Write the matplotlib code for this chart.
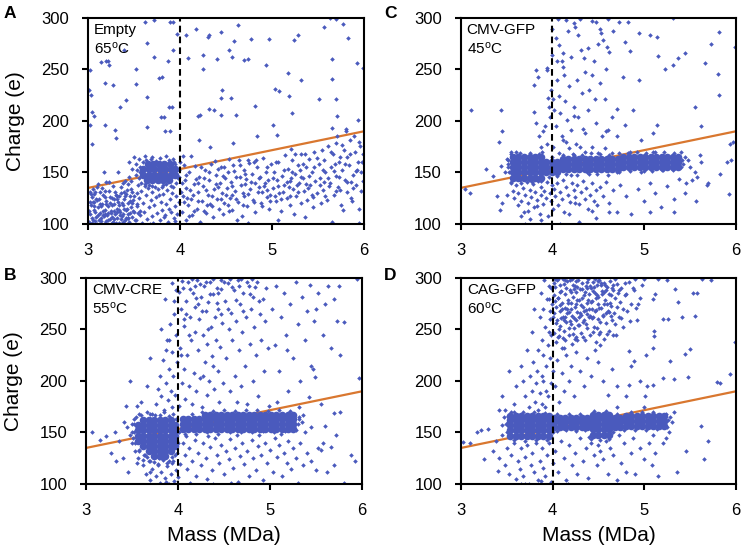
import numpy as np
import matplotlib
matplotlib.use("Agg")
import matplotlib.pyplot as plt

plt.rcParams['font.family'] = ['Liberation Sans', 'DejaVu Sans']
plt.rcParams['mathtext.default'] = 'regular'

# ---------------- data ----------------
mass_ticks = [3, 4, 5, 6]
charge_ticks = [100, 150, 200, 250, 300]
fit_mass = [3, 6]
fit_charge = [135, 190]
cutoff_mass = 4
panel_letters = ['A', 'C', 'B', 'D']
samples = ['Empty', 'CMV-GFP', 'CMV-CRE', 'CAG-GFP']
temps = ['65', '45', '55', '60']

# dense cores: (charge, [masses]) read from the most crowded regions
A_core = [(143, [3.64, 3.70, 3.76, 3.82, 3.88]),
          (148, [3.60, 3.66, 3.72, 3.78, 3.84, 3.90, 3.95]),
          (153, [3.60, 3.66, 3.72, 3.78, 3.84, 3.90, 3.95]),
          (158, [3.65, 3.71, 3.77, 3.83, 3.89])]

C_core = [(145, [3.57, 3.63, 3.69, 3.75, 3.81, 3.87]),
          (150, [3.57, 3.63, 3.69, 3.75, 3.81, 3.87, 3.93, 3.99, 4.05]),
          (155, [3.57, 3.63, 3.69, 3.75, 3.81, 3.87, 3.93, 3.99, 4.05]),
          (160, [3.57, 3.63, 3.69, 3.75, 3.81, 3.87, 3.93, 3.99, 4.05]),
          (165, [3.57, 3.63, 3.69, 3.75, 3.81, 3.87]),
          (153, [4.11, 4.17, 4.23, 4.29, 4.35, 4.41, 4.47, 4.53, 4.59, 4.65, 4.71]),
          (158, [4.11, 4.17, 4.23, 4.29, 4.35, 4.41, 4.47, 4.53, 4.59, 4.65, 4.71]),
          (163, [4.11, 4.17, 4.23, 4.29, 4.35, 4.41, 4.47, 4.53, 4.59, 4.65, 4.71]),
          (155, [4.77, 4.83, 4.89, 4.95, 5.01, 5.07, 5.13, 5.19, 5.25, 5.31, 5.37]),
          (160, [4.77, 4.83, 4.89, 4.95, 5.01, 5.07, 5.13, 5.19, 5.25, 5.31, 5.37]),
          (165, [4.77, 4.83, 4.89, 4.95, 5.01, 5.07, 5.13, 5.19, 5.25, 5.31, 5.37])]

B_core = [(162, [3.62, 3.68, 3.74, 3.80, 3.86, 3.92]),
          (157, [3.56, 3.62, 3.68, 3.74, 3.80, 3.86, 3.92, 3.97]),
          (152, [3.56, 3.62, 3.68, 3.74, 3.80, 3.86, 3.92, 3.97]),
          (147, [3.56, 3.62, 3.68, 3.74, 3.80, 3.86, 3.92, 3.97]),
          (142, [3.56, 3.62, 3.68, 3.74, 3.80, 3.86, 3.92, 3.97]),
          (137, [3.62, 3.68, 3.74, 3.80, 3.86, 3.92, 3.97]),
          (132, [3.68, 3.74, 3.80, 3.86, 3.92]),
          (127, [3.74, 3.80, 3.86]),
          (153, [4.05, 4.11, 4.17, 4.23, 4.29, 4.35, 4.41, 4.47, 4.53, 4.59, 4.65,
                 4.71, 4.77, 4.83, 4.89, 4.95, 5.01, 5.07, 5.13, 5.19, 5.25]),
          (158, [4.05, 4.11, 4.17, 4.23, 4.29, 4.35, 4.41, 4.47, 4.53, 4.59, 4.65,
                 4.71, 4.77, 4.83, 4.89, 4.95, 5.01, 5.07, 5.13, 5.19, 5.25]),
          (163, [4.05, 4.11, 4.17, 4.23, 4.29, 4.35, 4.41, 4.47, 4.53, 4.59, 4.65,
                 4.71, 4.77, 4.83, 4.89, 4.95, 5.01, 5.07, 5.13, 5.19, 5.25]),
          (167, [4.29, 4.35, 4.41, 4.47, 4.53, 4.59, 4.65,
                 4.71, 4.77, 4.83, 4.89, 4.95, 5.01, 5.07, 5.13, 5.19, 5.25])]

D_core = [(147, [3.54, 3.60, 3.66, 3.72, 3.78, 3.84, 3.90, 3.96]),
          (152, [3.54, 3.60, 3.66, 3.72, 3.78, 3.84, 3.90, 3.96]),
          (157, [3.54, 3.60, 3.66, 3.72, 3.78, 3.84, 3.90, 3.96]),
          (162, [3.54, 3.60, 3.66, 3.72, 3.78, 3.84, 3.90, 3.96]),
          (166, [3.54, 3.60, 3.66, 3.72, 3.78, 3.84, 3.90, 3.96]),
          (155, [4.02, 4.08, 4.14, 4.20, 4.26, 4.32, 4.38, 4.68, 4.74]),
          (160, [4.02, 4.08, 4.14, 4.20, 4.26, 4.32, 4.38, 4.68, 4.74]),
          (164, [4.02, 4.08, 4.14, 4.20, 4.26, 4.32, 4.38, 4.68, 4.74]),
          (148, [4.44, 4.50, 4.56, 4.62]),
          (153, [4.44, 4.50, 4.56, 4.62]),
          (158, [4.44, 4.50, 4.56, 4.62]),
          (163, [4.44, 4.50, 4.56, 4.62]),
          (167, [4.44, 4.50, 4.56, 4.62]),
          (156, [4.80, 4.86, 4.92, 4.98, 5.04, 5.10, 5.16, 5.22]),
          (161, [4.80, 4.86, 4.92, 4.98, 5.04, 5.10, 5.16, 5.22]),
          (166, [4.80, 4.86, 4.92, 4.98, 5.04, 5.10, 5.16, 5.22])]

# individual events (mass MDa, charge e)
A_points = [
    (3.62,296),(3.72,298),(3.89,296),(3.92,296),(3.64,276),(3.39,269),(3.14,257),(3.20,258),(3.22,258),
    (3.23,254),(3.02,249),(3.52,250),(3.72,262),(3.87,258),(3.92,269),(3.97,284),(3.19,237),(3.27,235),
    (3.52,236),(3.77,242),(3.80,243),(3.41,220),(3.35,214),(3.64,223),(3.88,214),(3.91,214),(3.79,204),
    (3.83,204),(3.64,194),(3.84,190),(3.89,190),(3.04,209),(3.02,196),(3.18,196),(3.29,191),(3.30,183),
    (3.04,178),(4.07,283),(4.17,289),(4.31,283),(4.30,282),(4.44,286),(4.63,293),(4.59,278),(4.53,269),
    (4.56,262),(4.70,259),(4.74,260),(4.77,280),(4.97,280),(5.24,279),(5.28,283),(5.57,291),(5.63,300),
    (5.69,299),(5.77,294),(5.83,281),(5.92,256),(5.99,251),(5.65,260),(5.65,241),(5.69,221),(5.71,205),
    (5.65,193),(5.93,201),(5.80,192),(4.09,261),(4.25,250),(4.40,260),(4.25,264),(4.46,230),(4.45,222),
    (4.55,222),(4.32,212),(4.37,211),(4.61,206),(4.44,206),(4.19,205),(4.22,206),(4.81,215),(4.84,185),
    (4.58,179),(4.33,175),(4.21,182),(5.05,186),(5.01,196),(5.03,231),(5.08,229),(4.93,254),(5.18,224),
    (5.22,208),(5.32,240),(5.17,247),(5.51,221),(5.21,173),(5.36,168),(4.74,162),(4.48,155),(4.12,166),
    (4.03,166),(3.01,230),(3.03,225),(3.06,205),
    (3.01,102),(3.02,110),(3.03,118),(3.04,126),(3.05,104),(3.06,114),(3.07,121),(3.08,131),(3.09,107),
    (3.10,100),(3.11,116),(3.12,124),(3.13,111),(3.14,103),(3.15,119),(3.16,128),(3.17,108),(3.18,114),
    (3.19,101),(3.20,122),(3.21,109),(3.22,117),(3.23,132),(3.24,105),(3.25,113),(3.26,125),(3.27,102),
    (3.28,119),(3.29,110),(3.30,128),(3.31,106),(3.32,115),(3.33,121),(3.34,101),(3.35,112),(3.36,130),
    (3.37,108),(3.38,118),(3.39,124),(3.40,104),(3.41,114),(3.42,133),(3.43,110),(3.44,120),(3.45,102),
    (3.46,127),(3.47,116),(3.48,107),(3.49,123),(3.50,112),(3.02,121),(3.04,106),(3.06,129),(3.08,112),
    (3.10,123),(3.12,104),(3.14,117),(3.16,109),(3.18,126),(3.20,103),(3.22,111),(3.24,120),(3.26,107),
    (3.28,113),(3.30,101),(3.32,124),(3.34,118),(3.36,105),(3.38,110),(3.40,127),(3.42,115),(3.44,106),
    (3.46,111),(3.48,131),(3.15,135),(3.05,134),(3.27,137),(3.38,140),(3.45,146),(3.33,150),(3.48,153),
    (3.40,142),(3.20,141),(3.52,158),(3.17,150),
    (3.015,113),(3.035,129),(3.045,101),(3.065,117),(3.085,124),(3.095,136),(3.105,109),(3.125,131),
    (3.135,119),(3.145,106),(3.165,113),(3.185,132),(3.195,119),(3.215,104),(3.235,126),(3.245,111),
    (3.265,118),(3.285,105),(3.295,131),(3.315,112),(3.335,127),(3.345,109),(3.365,120),(3.385,102),
    (3.395,115),(3.415,129),(3.435,106),(3.455,122),(3.465,134),(3.485,113),(3.505,127),(3.515,104),
    (3.535,119),(3.545,111),(3.11,139),(3.23,141),(3.36,136),(3.43,139),(3.05,121),(3.19,110),(3.31,127),
    (3.26,101),(3.39,131),(3.48,120),(3.13,100),(3.02,131),(3.28,124),(3.08,103),(3.41,106),(3.34,114),
    (3.52,104),(3.53,117),(3.55,125),(3.56,109),(3.58,132),(3.59,101),(3.60,120),(3.61,112),(3.63,128),
    (3.64,105),(3.65,135),(3.66,116),(3.68,123),(3.69,108),(3.70,131),(3.71,101),(3.72,118),(3.74,126),
    (3.75,111),(3.76,134),(3.78,104),(3.79,121),(3.80,114),(3.82,129),(3.83,107),(3.85,119),(3.86,133),
    (3.87,102),(3.89,124),(3.90,112),(3.91,130),(3.93,106),(3.94,117),(3.96,127),(3.97,110),(3.99,121),
    (3.54,138),(3.62,137),(3.73,136),(3.81,138),(3.92,136),(3.57,113),(3.67,100),(3.77,128),(3.88,115),
    (3.95,103),(3.53,130),(3.84,109),(3.50,165),(3.55,163),(3.62,166),(3.70,165),(3.85,166),(3.92,163),
    (4.00,160),(3.47,142),(3.52,148),(3.98,145),(4.02,140),(3.45,160),
    (4.02,112),(4.03,127),(4.05,143),(4.06,104),(4.07,135),(4.09,118),(4.10,150),(4.12,124),(4.13,109),
    (4.15,139),(4.16,156),(4.18,115),(4.19,131),(4.21,146),(4.22,102),(4.24,122),(4.25,137),(4.27,152),
    (4.28,111),(4.30,128),(4.31,143),(4.33,119),(4.34,158),(4.36,107),(4.37,134),(4.39,148),(4.40,124),
    (4.42,115),(4.43,140),(4.45,155),(4.46,130),(4.48,120),(4.49,145),(4.04,157),(4.11,133),(4.20,140),
    (4.29,118),(4.38,161),(4.47,110),
    (4.51,135),(4.52,150),(4.54,125),(4.55,141),(4.57,114),(4.58,157),(4.60,132),(4.61,146),(4.63,121),
    (4.64,162),(4.66,138),(4.67,108),(4.69,152),(4.70,127),(4.72,144),(4.73,117),(4.75,159),(4.76,134),
    (4.78,149),(4.79,123),(4.81,140),(4.82,112),(4.84,155),(4.85,131),(4.87,146),(4.88,120),(4.90,164),
    (4.91,137),(4.93,150),(4.94,126),(4.96,143),(4.97,115),(4.99,158),(4.53,163),(4.62,104),(4.74,101),
    (4.86,136),(4.95,133),(4.68,130),(4.80,160),
    (5.01,135),(5.02,150),(5.04,122),(5.05,143),(5.07,160),(5.08,130),(5.10,113),(5.11,147),(5.13,138),
    (5.14,167),(5.16,125),(5.17,153),(5.19,142),(5.20,118),(5.22,162),(5.23,134),(5.25,149),(5.26,127),
    (5.28,157),(5.29,140),(5.31,120),(5.32,168),(5.34,145),(5.35,132),(5.37,155),(5.38,123),(5.40,163),
    (5.41,138),(5.43,150),(5.44,116),(5.46,170),(5.47,142),(5.49,130),(5.06,104),(5.12,131),(5.24,110),
    (5.36,107),(5.45,126),(5.18,136),(5.30,152),
    (5.51,158),(5.52,145),(5.54,172),(5.55,133),(5.57,162),(5.58,150),(5.60,123),(5.61,176),(5.63,140),
    (5.64,155),(5.66,168),(5.67,128),(5.69,147),(5.70,179),(5.72,136),(5.73,160),(5.75,118),(5.76,152),
    (5.78,172),(5.79,143),(5.81,165),(5.82,131),(5.84,157),(5.85,182),(5.87,122),(5.88,148),(5.90,170),
    (5.91,138),(5.93,160),(5.94,115),(5.96,176),(5.97,150),(5.99,142),(5.53,120),(5.65,102),(5.77,114),
    (5.86,125),(5.95,101),(5.62,137),(5.74,165),(5.89,185),(5.98,160),(5.80,190),(5.71,185),
    (4.08,125),(4.26,145),(4.41,136),(4.57,128),(4.71,139),(4.89,131),(5.03,127),(5.21,145),(5.39,135),
    (5.56,141),(5.74,133),(5.92,152),(4.15,113),(4.35,127),(4.65,146),(4.98,122),(5.27,138),(5.68,158),
    (5.86,141),(4.52,118),
    (4.01,131),(4.04,121),(4.07,148),(4.10,108),(4.14,128),(4.17,144),(4.19,122),(4.23,155),(4.26,113),
    (4.28,133),(4.32,150),(4.35,117),(4.39,139),(4.41,153),(4.44,124),(4.47,147),(4.50,128),(4.53,113),
    (4.56,137),(4.59,151),(4.61,124),(4.65,157),(4.68,118),(4.71,149),(4.74,129),(4.77,141),(4.80,121),
    (4.83,162),(4.86,145),(4.89,117),(4.92,140),(4.95,155),(4.98,128),(5.01,145),(5.04,160),(5.07,137),
    (5.10,124),(5.13,152),(5.16,141),(5.19,127),(5.22,150),(5.25,168),(5.28,131),(5.31,146),(5.34,158),
    (5.37,139),(5.40,147),(5.43,128),(5.46,155),(5.49,164),(5.52,138),(5.55,152),(5.58,127),(5.61,145),
    (5.64,170),(5.67,151),(5.70,132),(5.73,146),(5.76,177),(5.79,158),(5.82,141),(5.85,168),(5.88,135),
    (5.91,151),(5.94,180),(5.97,132),(5.99,168)]

A_fringe = [(3.55,145),(3.56,155),(3.58,140),(3.60,160),(3.68,163),(3.78,164),(3.88,162),(3.95,158),
            (3.99,152),(3.99,146),(3.96,140),(3.90,137),(3.80,136),(3.70,137),(3.62,139),(3.57,150),
            (3.53,152),(3.66,138),(3.85,139),(3.93,160),(3.74,161),(3.63,162)]

C_points = [
    (3.82,249),(3.80,235),(3.84,243),(3.94,251),(3.94,249),(3.99,264),(4.00,289),(4.04,281),(4.07,274),
    (4.11,266),(4.10,258),(4.13,245),(4.17,287),(4.23,295),(4.25,291),(4.28,283),(4.31,269),(4.34,261),
    (4.39,271),(4.43,297),(4.52,289),(4.53,285),(4.55,279),(4.59,272),(4.62,267),(4.66,287),(4.72,296),
    (4.82,296),(4.79,277),(4.84,268),(4.94,285),(5.06,283),(5.14,282),(5.15,263),(5.31,254),(5.44,266),
    (5.66,256),(5.73,275),(5.82,225),(5.82,286),(5.99,272),(5.80,246),(5.31,300),
    (3.80,209),(3.82,198),(3.85,185),(3.87,175),(3.90,190),(3.92,195),(3.96,214),(3.97,204),(4.01,221),
    (4.02,211),(4.04,195),(4.07,224),(4.08,208),(4.10,185),(4.14,219),(4.16,201),(4.18,234),(4.20,191),
    (4.23,214),(4.26,178),(4.28,204),(4.32,227),(4.36,188),(4.39,211),(4.43,245),(4.46,221),(4.48,198),
    (4.52,237),(4.54,185),(4.57,221),(4.61,191),(4.65,204),(4.70,212),(4.77,243),(4.79,196),(4.88,211),
    (4.94,240),(4.97,182),(5.10,188),(5.23,250),(5.37,261),(5.55,214),(5.62,195),(5.61,167),(5.95,162),
    (5.94,178),(5.14,196),(3.11,211),(3.44,211),(3.45,190),(3.42,180),
    (3.89,170),(3.94,178),(4.01,175),(4.07,169),(4.12,182),(4.18,174),(4.23,167),(4.30,175),(4.36,170),
    (4.43,175),(4.50,169),(4.57,174),(4.65,169),(3.98,230),(4.05,240),(4.12,252),(4.20,262),(4.27,240),
    (4.35,248),(4.45,258),(4.50,275),(4.58,250),(4.06,299),(4.15,298),(4.30,299),(4.47,296),(4.60,299),
    (4.40,230),(4.24,205),(4.05,258),(3.95,222),(4.15,180),(4.33,192),(4.58,190),(4.70,185),
    (3.55,140),(3.57,132),(3.58,125),(3.60,138),(3.62,118),(3.63,130),(3.65,143),(3.66,122),(3.68,135),
    (3.69,112),(3.70,128),(3.72,141),(3.73,120),(3.75,133),(3.76,105),(3.77,126),(3.79,139),(3.80,116),
    (3.81,131),(3.83,123),(3.84,142),(3.86,110),(3.87,128),(3.88,136),(3.90,119),(3.91,132),(3.93,125),
    (3.94,141),(3.95,108),(3.97,130),(3.98,122),(3.99,138),(4.01,115),(4.02,134),(4.03,127),(4.05,140),
    (4.06,118),(4.08,131),(4.10,124),(4.11,143),(4.13,112),(4.15,136),(4.17,128),(4.19,121),(4.21,140),
    (4.23,133),(4.25,126),(4.27,138),(4.29,119),(4.31,131),(4.33,142),(4.35,124),(4.37,135),(4.39,115),
    (4.41,128),(4.43,140),(4.45,122),(4.47,133),(4.49,118),(4.52,136),(4.55,127),(4.58,141),(4.62,120),
    (4.66,133),(4.70,112),(4.74,138),(4.80,127),(4.86,110),(4.93,134),(5.00,122),(5.06,140),(5.12,130),
    (5.18,116),(5.25,137),(5.32,112),(5.38,144),(5.45,130),(5.52,143),(5.56,122),(5.68,138),(5.83,149),
    (5.92,129),(5.46,140),(3.50,128),(3.45,120),(3.43,114),(3.40,127),(3.35,147),(3.28,153),(3.10,130),
    (3.05,134),(3.48,150),(3.44,156),(3.52,162),(3.55,168),(3.60,170),(3.70,100),(3.88,104),(4.29,102),
    (4.08,100),(4.62,112),(3.66,108),(3.73,113),(3.83,117),(4.18,110),(4.48,106),(5.33,124),(5.06,112),
    (4.25,120),(4.43,113),(5.50,155),(5.55,150),(5.62,160),(5.58,146),(5.48,162),(5.70,140),(5.97,180),
    (5.90,160)]

C_fringe = [(4.12,167),(4.22,168),(4.32,167),(4.42,169),(4.52,168),(4.62,167),(4.72,169),(4.82,169),
            (4.92,170),(5.02,169),(5.12,170),(5.22,170),(5.32,169),(4.15,149),(4.27,148),(4.38,150),
            (4.49,149),(4.61,148),(4.73,150),(4.84,151),(4.96,150),(5.08,151),(5.19,152),(5.31,152),
            (5.40,155),(5.41,162),(3.55,170),(3.65,169),(3.75,169),(3.85,168),(3.55,141),(3.66,140),
            (3.78,141),(3.88,142),(3.96,146),(4.00,165),(3.52,155),(3.51,163),(3.60,147),(3.70,145),
            (3.85,146),(4.05,147),(4.20,148),(4.40,149),(4.70,150),(5.00,151),(5.20,152),(5.42,158),
            (5.44,165),(5.40,170),(5.10,170),(4.85,170),(3.53,150),(3.52,158)]

B_points = [
    (3.76,178),(3.78,192),(3.80,205),(3.82,185),(3.84,220),(3.85,172),(3.87,198),(3.88,240),(3.89,182),
    (3.90,212),(3.91,255),(3.92,190),(3.93,228),(3.94,175),(3.95,205),(3.96,265),(3.97,186),(3.98,245),
    (3.99,218),(3.70,222),(3.66,195),(3.60,180),(3.72,168),(3.55,176),(3.48,200),(3.82,250),(3.86,280),
    (3.93,295),(3.98,288),
    (4.01,176),(4.02,232),(4.03,270),(4.04,198),(4.05,290),(4.06,212),(4.07,253),(4.08,183),(4.09,278),
    (4.10,225),(4.11,296),(4.12,195),(4.13,262),(4.14,240),(4.15,178),(4.16,285),(4.17,208),(4.18,248),
    (4.19,272),(4.20,190),(4.21,298),(4.22,230),(4.23,260),(4.24,203),(4.25,282),(4.26,175),(4.27,245),
    (4.28,292),(4.29,218),(4.30,268),(4.31,186),(4.32,236),(4.33,277),(4.34,200),(4.35,296),(4.36,252),
    (4.37,224),(4.38,284),(4.39,192),(4.40,262),(4.41,240),(4.42,290),(4.43,210),(4.44,270),(4.45,180),
    (4.46,233),(4.47,298),(4.48,256),(4.49,198),(4.03,225),(4.12,245),(4.22,275),(4.33,250),(4.44,285),
    (4.06,260),(4.18,292),(4.27,205),(4.38,215),(4.47,265),
    (4.51,278),(4.52,222),(4.54,295),(4.55,250),(4.56,190),(4.58,266),(4.59,240),(4.61,288),(4.62,205),
    (4.63,258),(4.65,298),(4.66,230),(4.67,275),(4.69,195),(4.70,248),(4.71,285),(4.73,215),(4.74,262),
    (4.75,178),(4.77,292),(4.78,236),(4.79,270),(4.81,200),(4.82,282),(4.83,252),(4.85,225),(4.86,296),
    (4.87,185),(4.89,265),(4.90,240),(4.92,280),(4.93,210),(4.95,258),(4.96,290),(4.98,232),(4.99,176),
    (4.57,299),(4.68,299),(4.80,299),(4.64,180),
    (5.02,270),(5.05,235),(5.07,292),(5.10,210),(5.12,262),(5.15,285),(5.17,245),(5.20,190),(5.22,275),
    (5.25,222),(5.28,296),(5.30,255),(5.33,200),(5.35,282),(5.38,240),(5.40,268),(5.43,293),(5.45,215),
    (5.48,258),(5.52,285),(5.55,178),(5.58,245),(5.60,275),(5.63,292),(5.66,232),(5.70,280),(5.73,258),
    (5.76,225),(5.08,180),(5.18,230),(5.32,175),(5.42,184),(5.50,270),(5.95,299),(5.97,203),(5.75,292),
    (5.80,257),(5.47,212),(5.49,204),(5.69,169),(5.76,170),
    (4.015,286),(4.045,297),(4.085,265),(4.125,289),(4.155,299),(4.195,281),(4.235,294),(4.265,268),
    (4.305,296),(4.345,284),(4.385,299),(4.425,276),(4.465,289),(4.505,296),(4.545,270),(4.585,291),
    (4.625,279),(4.665,292),(4.705,268),(4.745,296),(4.785,284),(4.835,291),(4.885,278),(3.955,278),
    (3.905,240),(3.865,230),
    (3.62,118),(3.65,110),(3.68,122),(3.70,104),(3.72,115),(3.74,121),(3.76,108),(3.78,118),(3.80,101),
    (3.82,112),(3.84,123),(3.86,106),(3.88,117),(3.90,100),(3.92,110),(3.94,120),(3.96,103),(3.98,114),
    (4.00,107),(4.02,119),(3.57,125),(3.53,132),(3.50,140),(3.48,148),(3.45,155),(3.52,163),(3.58,168),
    (3.66,170),(3.75,167),(3.85,170),(3.95,168),(3.70,112),(3.79,125),(3.87,102),(3.93,126),(3.63,128),
    (3.55,120),(3.46,112),(3.40,125),(3.58,132),(3.66,126),(3.90,122),(3.97,128),(3.52,150),(3.50,158),
    (3.07,150),(3.15,143),(3.22,147),(3.27,130),(3.33,122),(3.36,142),(3.43,176),(3.41,160),(3.31,150),
    (4.05,140),(4.08,128),(4.10,115),(4.12,135),(4.15,122),(4.18,143),(4.20,108),(4.22,130),(4.25,118),
    (4.27,140),(4.30,125),(4.32,105),(4.35,136),(4.37,114),(4.40,145),(4.42,128),(4.45,120),(4.47,138),
    (4.50,110),(4.52,132),(4.55,124),(4.57,144),(4.60,116),(4.62,135),(4.65,102),(4.67,127),(4.70,140),
    (4.72,119),(4.75,132),(4.77,108),(4.80,143),(4.82,125),(4.85,114),(4.87,137),(4.90,128),(4.92,104),
    (4.95,140),(4.97,120),(5.00,133),(5.03,112),(5.05,145),(5.08,126),(5.10,138),(5.13,108),(5.15,130),
    (5.18,120),(5.20,142),(5.23,115),(5.25,135),(5.28,125),(5.30,101),(5.33,140),(5.36,118),(5.40,130),
    (5.45,122),(5.50,114),(5.55,133),(5.62,112),(5.70,118),(5.80,101),(5.88,128),(5.92,122),(5.58,140),
    (4.13,101),(4.38,100),(4.58,101),(4.09,147),(4.33,147),(4.64,148),(4.88,148),(5.12,149),(5.35,160),
    (5.38,150),(5.45,155),(5.60,156),(5.72,148),(5.66,136),(5.52,135),(5.32,163),(5.36,167)]

B_fringe = [(3.50,150),(3.52,158),(3.54,165),(3.60,167),(3.70,168),(3.80,167),(3.90,166),(3.98,163),
            (4.01,150),(4.00,140),(3.99,130),(3.95,122),(3.88,120),(3.78,119),(3.70,122),(3.64,128),
            (3.58,133),(3.53,140),(3.51,145),(3.62,123),(3.84,124),(4.08,149),(4.20,149),(4.32,150),
            (4.44,149),(4.56,150),(4.68,150),(4.80,150),(4.92,151),(5.04,150),(5.16,151),(5.28,152),
            (5.30,158),(5.31,165),(4.15,168),(4.26,170),(4.38,171),(4.50,172),(4.62,171),(4.74,172),
            (4.86,172),(4.98,171),(5.10,172),(5.22,171)]

D_points = [
    (3.86,262),(3.87,285),(3.88,240),(3.89,225),(3.90,270),(3.91,298),(3.92,252),(3.93,215),(3.94,280),
    (3.95,235),(3.96,292),(3.97,260),(3.98,245),(3.99,275),(3.88,205),(3.93,190),(3.97,222),(3.84,230),
    (3.80,270),(3.83,210),(3.78,248),
    (4.01,283),(4.02,247),(4.02,266),(4.03,291),(4.04,238),(4.04,272),(4.05,259),(4.06,299),(4.06,281),
    (4.07,244),(4.08,268),(4.08,253),(4.09,287),(4.10,232),(4.10,276),(4.11,262),(4.12,294),(4.12,249),
    (4.13,271),(4.14,284),(4.14,240),(4.15,257),(4.16,297),(4.16,266),(4.17,279),(4.18,245),(4.19,288),
    (4.19,258),(4.20,270),(4.21,299),(4.21,236),(4.22,282),(4.23,261),(4.23,251),(4.24,292),(4.25,275),
    (4.26,243),(4.26,286),(4.27,267),(4.28,298),(4.29,254),(4.29,279),(4.30,289),(4.31,264),(4.31,247),
    (4.32,295),(4.33,272),(4.34,283),(4.34,259),(4.35,240),(4.36,292),(4.37,276),(4.37,265),(4.38,251),
    (4.39,299),(4.40,284),(4.40,270),(4.41,245),(4.42,290),(4.43,261),(4.43,278),(4.44,296),(4.45,252),
    (4.46,285),(4.46,268),(4.47,238),(4.48,293),(4.49,275),(4.50,260),(4.50,282),(4.51,298),(4.52,248),
    (4.53,271),(4.54,287),(4.55,263),(4.56,295),(4.56,241),(4.57,279),(4.58,256),(4.59,291),(4.60,268),
    (4.61,284),(4.62,249),(4.63,297),(4.64,273),(4.65,259),(4.66,288),(4.67,266),(4.68,281),(4.69,245),
    (4.70,294),(4.72,262),(4.73,277),(4.75,290),(4.77,252),(4.79,283),(4.81,268),(4.83,296),(4.86,275),
    (4.89,288),(4.92,259),(4.95,281),(4.98,293),
    (4.015,295),(4.035,256),(4.055,281),(4.075,293),(4.095,261),(4.115,242),(4.135,298),(4.155,270),
    (4.175,251),(4.195,276),(4.215,263),(4.235,289),(4.255,297),(4.275,254),(4.295,266),(4.315,281),
    (4.335,243),(4.355,286),(4.375,296),(4.395,262),(4.415,277),(4.435,248),(4.455,291),(4.475,269),
    (4.495,297),(4.515,257),(4.535,284),(4.555,275),(4.575,293),(4.595,246),(4.615,267),(4.635,283),
    (4.655,293),(4.675,255),(4.705,272),(4.745,261),(4.785,295),(4.845,258),(4.905,271),
    (4.03,299),(4.11,299),(4.18,267),(4.24,241),(4.33,257),(4.41,263),(4.47,281),(4.53,293),(4.59,275),
    (4.66,245),(4.71,285),(4.08,274),(4.14,262),(4.22,293),(4.27,279),(4.36,269),(4.44,287),(4.51,271),
    (4.58,288),(4.64,263),(4.20,255),(4.38,290),(4.06,243),(4.26,259),(4.48,251),
    (3.985,290),(3.975,268),(3.965,248),(3.955,280),(4.005,262),(4.025,278),(4.045,298),(4.065,250),
    (4.085,286),(4.105,270),(4.125,259),(4.145,290),(4.165,276),(4.185,298),(4.205,286),(4.225,246),
    (4.245,272),(4.265,291),(4.285,262),(4.305,274),(4.325,289),(4.345,268),(4.365,255),(4.385,279),
    (4.405,292),(4.425,270),(4.445,262),(4.465,299),(4.485,283),(4.505,246),(4.525,295),(4.545,264),
    (4.565,286),(4.585,266),(4.625,276),(4.645,290),(4.685,299),(4.725,288),(4.765,270),(4.805,284),
    (4.875,290),(4.935,275),
    (3.65,215),(3.68,200),(3.70,185),(3.72,230),(3.74,175),(3.75,205),(3.77,190),(3.79,218),(3.81,180),
    (3.82,198),(3.84,172),(3.86,188),(3.88,178),(3.90,200),(3.92,175),(3.95,185),(3.98,198),(4.00,210),
    (4.03,195),(4.05,220),(4.07,180),(4.10,208),(4.12,190),(4.15,225),(4.18,200),(4.20,215),(4.23,185),
    (4.26,228),(4.30,210),(4.34,195),(4.38,222),(4.42,205),(4.46,230),(4.50,218),(4.55,200),(4.60,186),
    (4.65,212),(4.70,195),(4.52,235),(4.27,240),(4.12,232),(3.60,195),(3.58,178),(3.55,170),(3.48,172),
    (3.52,210),(3.45,185),
    (5.93,207),(5.83,198),(5.99,238),(5.73,298),(5.53,285),(5.58,285),(5.55,263),(5.34,289),(5.37,277),
    (5.41,262),(5.20,260),(5.26,260),(5.28,219),(5.20,203),(5.32,202),(5.44,226),(5.50,231),(5.48,204),
    (5.79,199),(5.01,185),(5.10,196),(5.02,225),(5.10,232),(4.83,196),(4.83,229),(4.89,219),(5.11,249),
    (5.11,244),(5.12,284),(5.00,299),(4.90,299),(5.10,280),(4.85,215),(4.95,200),(5.00,175),(4.80,185),
    (4.70,175),(5.03,195),(5.15,299),(5.25,298),(5.63,299),
    (3.02,141),(3.18,150),(3.22,152),(3.25,124),(3.35,132),(3.38,142),(3.40,113),(3.42,125),(3.45,148),
    (3.48,118),(3.50,135),(3.52,110),(3.55,128),(3.58,140),(3.60,105),(3.62,122),(3.64,115),(3.66,135),
    (3.68,108),(3.70,126),(3.72,138),(3.74,100),(3.76,118),(3.78,130),(3.80,112),(3.82,140),(3.84,104),
    (3.86,122),(3.88,135),(3.90,116),(3.92,108),(3.94,128),(3.96,140),(3.98,102),(4.00,120),(4.03,132),
    (4.06,112),(4.09,142),(4.12,125),(4.15,104),(4.18,138),(4.21,118),(4.24,130),(4.27,110),(4.30,145),
    (4.33,122),(4.36,135),(4.39,106),(4.42,140),(4.45,128),(4.48,118),(4.50,138),(4.52,132),(4.55,124),
    (4.58,142),(4.60,110),(4.63,135),(4.66,128),(4.70,104),(4.75,120),(4.78,140),(4.80,112),(4.85,130),
    (4.88,145),(4.90,110),(4.95,135),(5.00,124),(5.05,140),(5.08,118),(5.12,130),(5.15,108),(5.20,140),
    (5.24,145),(5.36,112),(5.45,132),(5.65,124),(5.70,142),(5.62,156),(5.10,148),(4.40,146),(4.72,148),
    (3.51,160),(3.47,165),(3.45,157),(3.42,172),(3.30,153),(3.10,140),(3.70,100),(3.65,100),(3.87,103),
    (4.17,100),(5.28,165),(5.30,160),(5.27,150),(5.32,170)]

D_fringe = [(3.50,150),(3.49,158),(3.51,166),(3.58,170),(3.68,170),(3.80,170),(3.92,169),(3.58,143),
            (3.70,142),(3.82,143),(3.94,143),(4.00,150),(4.05,151),(4.15,152),(4.25,151),(4.35,152),
            (4.05,168),(4.18,168),(4.30,168),(4.42,144),(4.52,143),(4.62,144),(4.66,150),(4.45,171),
            (4.58,171),(4.70,168),(4.78,152),(4.90,152),(5.02,152),(5.14,153),(5.25,155),(5.26,162),
            (5.24,168),(4.85,170),(4.98,170),(5.10,170)]

cores = [A_core, C_core, B_core, D_core]
points = [A_points + A_fringe, C_points + C_fringe, B_points + B_fringe, D_points + D_fringe]

# ---------------- layout ----------------
positions = [[0.1183, 0.5935, 0.3710, 0.3739],
             [0.6192, 0.5935, 0.3700, 0.3739],
             [0.1156, 0.1216, 0.3710, 0.3739],
             [0.6196, 0.1216, 0.3696, 0.3739]]
letter_xy = [(0.005, 0.9673), (0.516, 0.9673), (0.005, 0.4918), (0.516, 0.4918)]

dot_color = '#4a5abd'
fit_color = '#d9772f'

fig = plt.figure(figsize=(7.44, 5.51), dpi=100)

for i in range(4):
    ax = fig.add_axes(positions[i])
    ax.plot(fit_mass, fit_charge, color=fit_color, lw=1.6, zorder=1)
    pm, pc = np.array(points[i], dtype=float).T
    ax.scatter(pm, pc, s=5.5, color=dot_color, linewidths=0, marker='D', zorder=2)
    cm = [m for c, ms in cores[i] for m in ms]
    cc = [c for c, ms in cores[i] for m in ms]
    ax.scatter(cm, cc, s=30, color=dot_color, linewidths=0, marker='o', zorder=2)
    ax.plot([cutoff_mass, cutoff_mass], [300, 100], color='black', lw=1.5,
            linestyle=(1.5, (3.2, 2.0)), zorder=3)
    ax.set_xlim(mass_ticks[0], mass_ticks[-1])
    ax.set_ylim(charge_ticks[0], charge_ticks[-1])
    ax.set_xticks(mass_ticks)
    ax.set_yticks(charge_ticks)
    ax.tick_params(direction='out', length=4.5, width=1.5, labelsize=12, pad=9, color='black')
    for sp in ax.spines.values():
        sp.set_linewidth(1.5)
        sp.set_color('black')
    ax.text(0.022, 0.975, samples[i] + '\n' + temps[i] + r'$^{o}$C', transform=ax.transAxes,
            ha='left', va='top', fontsize=11, linespacing=1.25, zorder=4)
    if i in (0, 2):
        ax.set_ylabel('Charge (e)', fontsize=15)
        ax.yaxis.set_label_coords(-0.228, 0.5)
    if i in (2, 3):
        ax.set_xlabel('Mass (MDa)', fontsize=15)
        ax.xaxis.set_label_coords(0.5, -0.205)
    fig.text(letter_xy[i][0], letter_xy[i][1], panel_letters[i], fontsize=12.5,
             fontweight='bold', ha='left', va='baseline')

fig.savefig('out.png', dpi=100)
